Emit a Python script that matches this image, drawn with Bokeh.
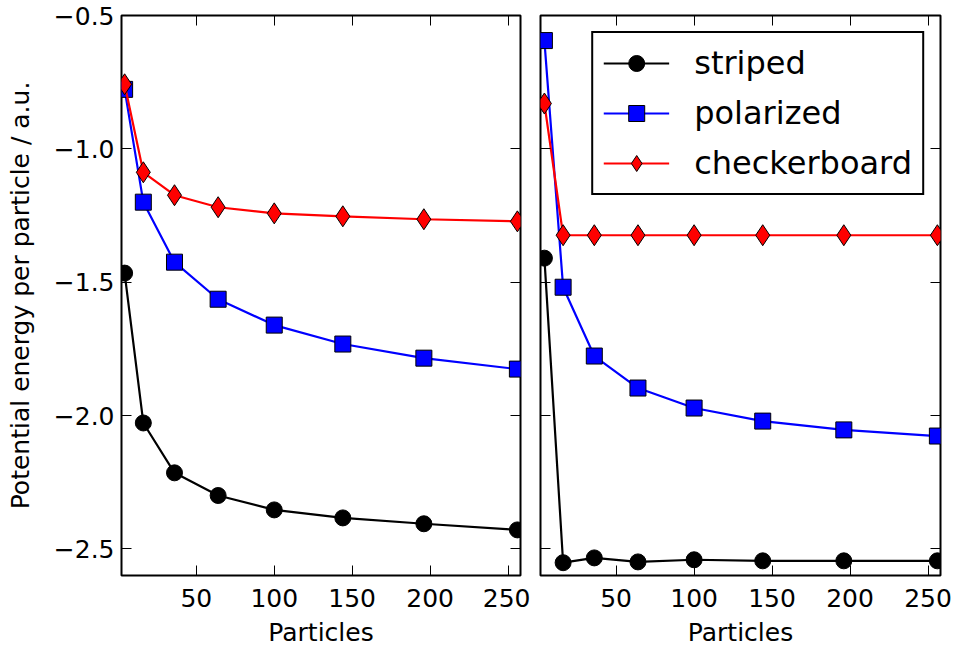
from bokeh.plotting import figure
from bokeh.layouts import row
from bokeh.models import (LinearAxis, FixedTicker, Legend, LegendItem, Range1d,
                          CustomLabelingPolicy)
from bokeh.embed import file_html
from bokeh.resources import INLINE

# Number of particles simulated (x for every series)
particles = [4, 16, 36, 64, 100, 144, 196, 256]

# Left panel: potential energy per particle
left_striped = [-1.466, -2.028, -2.215, -2.300, -2.354, -2.384, -2.406, -2.429]
left_polarized = [-0.777, -1.200, -1.425, -1.564, -1.661, -1.732, -1.785, -1.826]
left_checkerboard = [-0.758, -1.088, -1.174, -1.219, -1.242, -1.253, -1.264, -1.272]

# Right panel: potential energy per particle
right_striped = [-1.410, -2.552, -2.534, -2.549, -2.541, -2.545, -2.545, -2.545]
right_polarized = [-0.594, -1.519, -1.777, -1.897, -1.972, -2.021, -2.054, -2.077]
right_checkerboard = [-0.830, -1.324, -1.324, -1.324, -1.324, -1.324, -1.324, -1.324]

series_names = ["striped", "polarized", "checkerboard"]

x_ticks = [50, 100, 150, 200, 250]
y_ticks = [-2.5, -2.0, -1.5, -1.0, -0.5]
y_tick_labels = ["\u22122.5", "\u22122.0", "\u22121.5", "\u22121.0", "\u22120.5"]

FONT = "DejaVu Sans"

STYLES = {
    "striped": dict(color="black", marker="circle", size=16),
    "polarized": dict(color="blue", marker="square", size=16),
    "checkerboard": dict(color="red", marker="diamond", size=21),
}


def style_axis(axis, ticks, show_labels):
    axis.ticker = FixedTicker(ticks=ticks)
    axis.axis_line_color = None
    axis.major_tick_in = 10
    axis.major_tick_out = 0
    axis.major_tick_line_color = "black"
    axis.major_tick_line_width = 1
    axis.minor_tick_line_color = None
    axis.major_label_text_font = FONT
    axis.axis_label_text_font = FONT
    axis.axis_label_text_font_style = "normal"
    axis.axis_label_text_font_size = "25px"
    axis.axis_label_text_color = "black"
    axis.major_label_text_color = "black"
    if show_labels:
        axis.major_label_text_font_size = "25px"
        axis.major_label_standoff = 7
    else:
        # tick marks only: no label is kept by the labeling policy
        axis.major_label_text_font_size = "1px"
        axis.major_label_standoff = 0
        axis.major_label_policy = CustomLabelingPolicy(code="return []")


def make_panel(width, border_left, border_right, x_start, values, y_labels, legend):
    p = figure(
        width=width, height=651,
        x_range=Range1d(x_start, 258), y_range=Range1d(-2.6, -0.5),
        x_axis_location=None, y_axis_location=None,
        output_backend="svg", toolbar_location=None,
        min_border_left=border_left, min_border_right=border_right,
        min_border_top=15, min_border_bottom=76,
    )
    p.grid.visible = False
    p.outline_line_color = "black"
    p.outline_line_width = 2
    p.background_fill_color = "white"
    p.border_fill_color = "white"

    bottom = LinearAxis(axis_label="Particles")
    style_axis(bottom, x_ticks, True)
    bottom.major_label_standoff = 13
    bottom.axis_label_standoff = 8
    p.add_layout(bottom, "below")

    top = LinearAxis()
    style_axis(top, x_ticks, False)
    p.add_layout(top, "above")

    left = LinearAxis()
    style_axis(left, y_ticks, y_labels)
    if y_labels:
        left.axis_label = "Potential energy per particle / a.u."
        left.axis_label_standoff = 16
        left.major_label_overrides = dict(zip(y_ticks, y_tick_labels))
    p.add_layout(left, "left")

    right = LinearAxis()
    style_axis(right, y_ticks, False)
    p.add_layout(right, "right")

    items = []
    for name in series_names:
        st = STYLES[name]
        ln = p.line(particles, values[name], line_color=st["color"], line_width=2.2)
        sc = p.scatter(particles, values[name], marker=st["marker"], size=st["size"],
                       fill_color=st["color"], line_color="black", line_width=1)
        items.append(LegendItem(label=name, renderers=[ln, sc]))

    if legend:
        lg = Legend(items=items, location="top_right", margin=16,
                    border_line_color="black", border_line_width=2,
                    border_line_alpha=1.0,
                    padding=10, spacing=10, glyph_height=40, glyph_width=66,
                    label_standoff=25, label_text_font=FONT,
                    label_text_font_size="32px", label_text_color="black",
                    background_fill_color="white", background_fill_alpha=1)
        p.add_layout(lg)
    return p


p_left = make_panel(
    530, 121, 10, 2,
    {"striped": left_striped, "polarized": left_polarized, "checkerboard": left_checkerboard},
    True, False,
)
p_right = make_panel(
    426, 10, 16, 1.5,
    {"striped": right_striped, "polarized": right_polarized, "checkerboard": right_checkerboard},
    False, True,
)

layout = row(p_left, p_right, spacing=0)

with open("out.html", "w") as f:
    f.write(file_html(layout, INLINE))
